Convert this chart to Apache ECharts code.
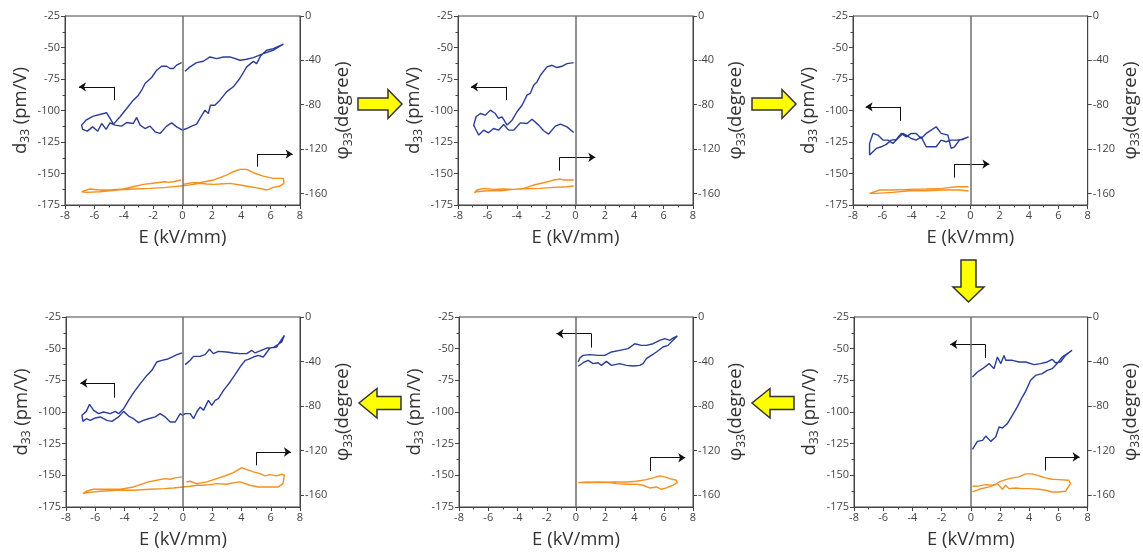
<!DOCTYPE html>
<html>
<head>
<meta charset="utf-8">
<script src="https://cdn.jsdelivr.net/npm/echarts@6/dist/echarts.min.js"></script>
<style>html,body{margin:0;padding:0;background:#fff;}#c{width:1143px;height:555px;}</style>
</head>
<body>
<div id="c"></div>
<script>
// ---------- DATA ----------
const xTicks = [-8, -6, -4, -2, 0, 2, 4, 6, 8];
const leftTicks = [-175, -150, -125, -100, -75, -50, -25];
const rightTicks = [0, -40, -80, -120, -160];
const xTitle = 'E (kV/mm)';
const leftTitle = ['d', '33', ' (pm/V)'];
const rightTitle = ['φ', '33', '(degree)'];

// Panel 1 (top-left)
const p1Blue = [[0.17,-68.8],[0.51,-65.4],[0.96,-62],[1.42,-60.9],[1.87,-57.5],[2.33,-58.8],[2.78,-57.5],[3.23,-57.5],[3.92,-60.1],[4.37,-59.3],[4.82,-58],[5.5,-54.8],[6.18,-52.2],[6.87,-47.4],
[6.18,-50.9],[5.73,-52.2],[5.3,-57],[5.05,-62.8],[4.82,-61],[4.37,-65.4],[3.9,-74.6],[3.46,-81.2],[3.0,-85.2],[2.55,-91.8],[2.2,-95.8],[1.9,-95.8],[1.76,-102.4],[1.53,-99.7],[1.19,-106.3],[0.96,-110.8],[0.62,-112.4],[0.28,-114.3],[0,-115.6],
[-0.4,-113],[-0.74,-109.8],[-1.08,-112.4],[-1.53,-118.2],[-1.87,-116.9],[-2.21,-112.4],[-2.55,-114.3],[-2.89,-111.6],[-3.12,-105.5],[-3.35,-110.3],[-3.8,-109.5],[-4.14,-112.4],[-4.6,-111.6],[-4.94,-109.8],[-5.2,-115],[-5.5,-110.3],[-5.77,-116.4],[-6.12,-113],[-6.48,-116.4],[-6.8,-115],[-6.87,-111.6],
[-6.57,-107.7],[-6.07,-104.5],[-5.16,-101.8],[-4.7,-110.8],[-4.25,-105],[-3.8,-98.4],[-3.35,-91.8],[-3,-87.8],[-2.78,-83.9],[-2.55,-78.6],[-2.1,-73.8],[-1.76,-68],[-1.42,-64.9],[-1.08,-64.9],[-0.85,-66.7],[-0.62,-66.7],[-0.4,-64],[-0.06,-62]];
const p1Orange = [[0.06,-151.9],[0.62,-150.4],[1.19,-150.4],[2.1,-148],[3.0,-143.5],[3.46,-140.5],[3.92,-138.4],[4.37,-138.4],[4.82,-141.4],[5.5,-144.4],[6.18,-146.5],[6.87,-146.5],[6.91,-151],[6.64,-153.4],[6.18,-154.6],[5.73,-157],[5.28,-155.5],[4.6,-154],[3.92,-152.5],[3.23,-151],[2.55,-151.6],[2.1,-151.9],[1.65,-151.6],[1.19,-151],[0.74,-151.9],[0.28,-152.8],[0,-153.1],
[-1.08,-154.6],[-2.21,-155.5],[-3.35,-156.1],[-4.48,-157],[-5.62,-158.5],[-6.53,-159.1],[-6.87,-158.5],[-6.75,-157],[-6.3,-156.1],[-5.62,-157],[-4.94,-157],[-4.03,-156.1],[-3.35,-154],[-2.67,-151.9],[-1.76,-150.4],[-1.19,-149.5],[-0.96,-150.1],[-0.62,-149.5],[-0.1,-148]];
const p1ArrowL = [[-4.66,-91.8],[-4.66,-81.2],[-7.05,-81.2]];
const p1ArrowR = [[5.12,-144.6],[5.12,-134.6],[7.5,-134.6]];

// Panel 2 (top-middle)
const p2Blue = [[-0.12,-117.4],[-0.58,-113],[-1.03,-110.8],[-1.37,-112.4],[-1.83,-118.7],[-2.17,-116.1],[-2.51,-111.6],[-2.96,-106.9],[-3.3,-110.3],[-3.76,-109.8],[-4.21,-115.6],[-4.55,-115.6],[-4.89,-111.1],[-5.24,-115.6],[-5.58,-114.3],[-5.92,-117.7],[-6.25,-115.6],[-6.59,-119.5],[-6.82,-114.3],[-6.93,-111.6],
[-6.77,-105],[-6.48,-102.4],[-6.14,-103.7],[-5.8,-99.7],[-5.46,-102.4],[-5.24,-106.3],[-5.0,-105],[-4.66,-111.6],[-4.32,-107.7],[-3.98,-101],[-3.64,-95.8],[-3.3,-87.8],[-3.08,-86.5],[-2.85,-79.9],[-2.62,-77.3],[-2.39,-72],[-1.94,-65.4],[-1.6,-64.1],[-1.26,-65.9],[-0.92,-64.9],[-0.58,-62.8],[-0.12,-62]];
const p2Orange = [[-0.12,-153.4],[-0.58,-154],[-1.49,-154.6],[-2.39,-155.5],[-3.3,-155.8],[-4.21,-156.4],[-5.12,-157.6],[-6.03,-157.6],[-6.71,-158.5],[-6.89,-159.4],
[-6.71,-157],[-6.25,-155.5],[-5.58,-156.4],[-4.89,-156.1],[-4.21,-156.4],[-3.53,-155.5],[-2.85,-152.5],[-2.17,-150.4],[-1.49,-148],[-1.03,-147.1],[-0.8,-148],[-0.58,-148],[-0.12,-148]];
const p2ArrowL = [[-4.71,-91.8],[-4.71,-81.2],[-7.12,-81.2]];
const p2ArrowR = [[-1.08,-147.8],[-1.08,-137.2],[1.35,-137.2]];

// Panel 3 (top-right)
const p3Blue = [[-0.12,-120.9],[-0.74,-123.5],[-1.08,-128.8],[-1.31,-130.1],[-1.53,-119.5],[-1.99,-118.2],[-2.33,-112.9],[-2.67,-115.6],[-3.01,-118.2],[-3.35,-122.2],[-3.69,-118.2],[-4.03,-118.2],[-4.37,-120.9],[-4.71,-118.2],[-5.05,-123],[-5.39,-123.5],[-5.73,-126.9],[-6.07,-128.8],[-6.41,-130.1],[-6.64,-132.7],[-6.87,-135.4],
[-6.87,-126.1],[-6.64,-118.2],[-6.3,-119.5],[-5.96,-123.5],[-5.62,-123.5],[-5.28,-126.1],[-4.94,-122.2],[-4.6,-118.2],[-4.37,-119.5],[-4.03,-122.2],[-3.69,-123.5],[-3.35,-120.9],[-3.01,-128.8],[-2.33,-128.8],[-1.99,-123.5],[-1.65,-124.8],[-1.31,-123.5],[-0.96,-123.5],[-0.51,-123],[-0.12,-120.9]];
const p3Orange = [[-0.12,-157.9],[-0.74,-157],[-1.87,-157],[-3.01,-157.6],[-4.14,-157.6],[-5.28,-159.1],[-6.41,-160],[-6.87,-160],
[-6.87,-158.5],[-6.18,-157],[-5.28,-157],[-4.14,-156.4],[-3.01,-156.1],[-1.87,-155.5],[-0.96,-154],[-0.51,-154],[-0.12,-154]];
const p3ArrowL = [[-4.78,-108.2],[-4.78,-97.1],[-7.14,-97.1]];
const p3ArrowR = [[-1.08,-153.3],[-1.08,-142.5],[1.3,-142.5]];

// Panel 4 (bottom-left)
const p4Blue = [[0.15,-62.6],[0.49,-59.2],[0.72,-56.1],[1.17,-56.1],[1.51,-54.7],[1.81,-50.5],[2.08,-53.9],[2.42,-52.1],[2.99,-52.6],[3.45,-53.4],[3.9,-53.9],[4.36,-53.9],[4.7,-51.3],[4.93,-53.4],[5.27,-51.8],[5.72,-49.5],[6.18,-49.2],[6.75,-44.7],[6.93,-39.5],
[6.63,-44.7],[6.4,-48.7],[5.95,-49.5],[5.49,-56.6],[5.15,-55.3],[4.81,-56.6],[4.47,-58.4],[4.25,-59.2],[3.9,-64.5],[3.56,-70.5],[3.22,-76.3],[2.77,-82.9],[2.42,-89.5],[2.2,-90.8],[1.97,-94.7],[1.74,-90.8],[1.4,-98.7],[1.17,-96.1],[0.94,-100],[0.72,-105.3],[0.49,-101.3],[0.15,-101.3],[-0.03,-102.6],
[-0.19,-101.3],[-0.53,-107.9],[-0.87,-107.9],[-1.22,-103.9],[-1.56,-101.3],[-1.9,-103.9],[-2.36,-105.3],[-2.7,-106.6],[-3.04,-108.4],[-3.38,-105.3],[-3.72,-103.2],[-4.06,-99.5],[-4.41,-103.9],[-4.86,-107.4],[-5.2,-106.6],[-5.66,-103.9],[-6,-104.7],[-6.34,-106.6],[-6.61,-105.3],[-6.84,-107.4],[-6.91,-102.6],
[-6.61,-99.5],[-6.39,-93.9],[-6.11,-98.7],[-5.77,-101.3],[-5.43,-100],[-4.97,-101.3],[-4.63,-99.5],[-4.41,-101.3],[-4.06,-97.4],[-3.72,-90.8],[-3.38,-84.7],[-2.92,-77.6],[-2.47,-71.1],[-2.13,-67.1],[-1.79,-60.5],[-1.45,-59.2],[-1.1,-58.4],[-0.76,-56.6],[-0.42,-54.7],[-0.08,-53.4]];
const p4Orange = [[0.22,-148],[0.49,-147.4],[0.94,-149.5],[1.63,-148],[2.31,-145],[2.99,-142],[3.44,-139.7],[4.02,-135.2],[4.36,-137],[4.82,-139],[5.27,-140.6],[5.61,-142.6],[5.95,-141.4],[6.41,-142.6],[6.75,-141.1],[6.93,-142],[6.84,-149.5],[6.52,-152.5],[5.72,-152.5],[5.15,-152.5],[4.58,-151],[3.9,-148],[3.44,-148.9],[2.99,-150.1],[2.31,-149.5],[1.86,-150.4],[1.4,-151],[0.94,-151],[0.49,-151.9],[0,-152.5],
[-0.65,-153.4],[-1.33,-154],[-2.24,-154.6],[-3.38,-155.5],[-4.52,-155.5],[-5.66,-156.4],[-6.57,-157.6],[-6.84,-158.5],[-6.61,-156.4],[-6.11,-154.6],[-5.2,-154.6],[-4.29,-154.6],[-3.38,-152.5],[-2.92,-150.4],[-2.36,-148],[-1.79,-146.5],[-1.22,-145],[-0.87,-145.6],[-0.53,-144.4],[-0.08,-143.5]];
const p4ArrowL = [[-4.68,-88.7],[-4.68,-77.1],[-7.02,-77.1]];
const p4ArrowR = [[4.99,-142.1],[4.99,-131.6],[7.38,-131.6]];

// Panel 5 (bottom-middle)
const p5Blue = [[0.15,-63.9],[0.49,-61.1],[0.83,-59.2],[1.17,-61.8],[1.51,-61.1],[1.74,-63.2],[2.08,-60],[2.43,-63.2],[2.99,-61.8],[3.45,-63.2],[3.9,-63.7],[4.36,-63.2],[4.59,-61.8],[4.81,-57.9],[5.15,-55.3],[5.5,-52.6],[5.95,-48.7],[6.29,-47.4],[6.63,-43.4],[6.93,-40],
[6.63,-41.6],[6.41,-43.4],[6.07,-42.1],[5.72,-43.4],[5.27,-46.1],[4.81,-47.4],[4.47,-47.4],[4.02,-46.1],[3.56,-50],[2.99,-51.3],[2.43,-52.6],[1.97,-55.3],[1.51,-55.3],[0.94,-54.7],[0.49,-55.3],[0.26,-57.4],[0.15,-60.5]];
const p5Orange = [[0.15,-148.6],[0.72,-148],[1.63,-148.6],[2.54,-148],[3.45,-148],[4.13,-147.4],[4.81,-145.9],[5.27,-144.4],[5.72,-142.6],[6.07,-143.5],[6.4,-145],[6.86,-146.5],[6.93,-148.6],[6.63,-151],[6.18,-153.4],[5.84,-154.6],[5.5,-152.5],[5.04,-153.4],[4.59,-151],[4.13,-150.1],[3.45,-150.1],[2.77,-149.5],[2.31,-148.6],[1.63,-148],[0.94,-148.6],[0.26,-148.6]];
const p5ArrowL = [[1.06,-49.2],[1.06,-38.2],[-1.33,-38.2]];
const p5ArrowR = [[5.09,-146.6],[5.09,-136.1],[7.47,-136.1]];

// Panel 6 (bottom-right)
const p6Blue = [[0.11,-129.5],[0.45,-123.2],[0.8,-122.4],[1.02,-119],[1.36,-123.2],[1.7,-119.7],[1.93,-111.8],[2.16,-112.6],[2.5,-109.2],[2.84,-102.6],[3.18,-96],[3.52,-88.2],[3.75,-83.7],[4.09,-75],[4.43,-71.1],[4.89,-69.7],[5.23,-67.1],[5.57,-65.8],[5.91,-61.8],[6.25,-56.6],[6.93,-51.3],
[6.48,-55.3],[6.14,-60.5],[5.8,-61.1],[5.57,-58.4],[5.23,-60.5],[4.77,-61.8],[4.32,-62.6],[3.75,-60.5],[3.3,-60.5],[2.84,-59.2],[2.39,-59.2],[2.27,-55.3],[2.05,-61.8],[1.82,-56.6],[1.59,-65.8],[1.25,-61.8],[0.8,-65.8],[0.45,-68.4],[0.11,-72.4]];
const p6Orange = [[0.11,-157],[0.57,-154.6],[1.25,-152.5],[1.7,-150.4],[1.93,-148],[2.39,-145.9],[2.84,-144.4],[3.3,-143.5],[3.75,-140.8],[4.2,-140.8],[4.66,-142.6],[5.11,-144.4],[5.57,-145.6],[6.02,-145.9],[6.7,-146.5],[6.82,-149.5],[6.48,-156.4],[6.02,-157],[5.57,-157],[5.11,-155.5],[4.66,-154.6],[3.98,-154],[3.52,-154],[3.07,-153.4],[2.61,-154],[2.39,-151],[2.16,-154.6],[1.82,-149.5],[1.48,-151],[1.02,-150.4],[0.57,-151.6],[0.11,-151.9]];
const p6ArrowL = [[0.98,-57.4],[0.98,-46.6],[-1.41,-46.6]];
const p6ArrowR = [[5.07,-146.1],[5.07,-135.5],[7.45,-135.5]];

// ---------- LAYOUT / STYLE ----------
const FONT = '"Open Sans", "Noto Sans", sans-serif';
const BLUE = '#2a3d98';
const ORANGE = '#f5901e';
const AXIS = '#444';
const panels = [
  {blue:p1Blue, orange:p1Orange, aL:p1ArrowL, aR:p1ArrowR, grid:{left:65, top:16, width:235, height:189}},
  {blue:p2Blue, orange:p2Orange, aL:p2ArrowL, aR:p2ArrowR, grid:{left:458, top:16, width:235, height:189}},
  {blue:p3Blue, orange:p3Orange, aL:p3ArrowL, aR:p3ArrowR, grid:{left:853, top:16, width:235, height:189}},
  {blue:p4Blue, orange:p4Orange, aL:p4ArrowL, aR:p4ArrowR, grid:{left:66, top:317, width:234, height:190}},
  {blue:p5Blue, orange:p5Orange, aL:p5ArrowL, aR:p5ArrowR, grid:{left:459, top:317, width:234, height:190}},
  {blue:p6Blue, orange:p6Orange, aL:p6ArrowL, aR:p6ArrowR, grid:{left:854, top:317, width:235, height:190}}
];

const rich = {
  t: {fontSize: 18.5, fontFamily: FONT, color: '#333', lineHeight: 23},
  s: {fontSize: 12, fontFamily: FONT, color: '#333', lineHeight: 12, padding: [11, 0, 0, 0]}
};
const richName = (parts) => '{t|' + parts[0] + '}{s|' + parts[1] + '}{t|' + parts[2] + '}';

const grids = [], xAxes = [], yAxes = [], series = [];
panels.forEach((p, i) => {
  grids.push(Object.assign({show: true, borderColor: AXIS, borderWidth: 1, containLabel: false}, p.grid));
  xAxes.push({
    type: 'value', gridIndex: i, min: xTicks[0], max: xTicks[xTicks.length - 1], interval: 2,
    name: xTitle, nameLocation: 'middle', nameGap: 23,
    nameTextStyle: {fontSize: 18.5, fontFamily: FONT, color: '#333'},
    axisLine: {show: true, onZero: false, lineStyle: {color: AXIS, width: 1}},
    axisTick: {show: true, inside: false, length: 4, lineStyle: {color: AXIS}},
    minorTick: {show: true, splitNumber: 2, length: 2.5, lineStyle: {color: AXIS}},
    axisLabel: {fontSize: 11, fontFamily: FONT, color: '#444', margin: 5},
    splitLine: {show: false}
  });
  yAxes.push({
    type: 'value', gridIndex: i, position: 'left', min: leftTicks[0], max: leftTicks[leftTicks.length - 1], interval: 25,
    name: richName(leftTitle), nameLocation: 'middle', nameGap: 33, nameRotate: 90,
    nameTextStyle: {rich: rich},
    axisLine: {show: true, onZero: false, lineStyle: {color: AXIS, width: 1}},
    axisTick: {show: true, inside: false, length: 4, lineStyle: {color: AXIS}},
    minorTick: {show: true, splitNumber: 2, length: 2.5, lineStyle: {color: AXIS}},
    axisLabel: {fontSize: 11, fontFamily: FONT, color: '#444', margin: 5},
    splitLine: {show: false}
  });
  yAxes.push({
    type: 'value', gridIndex: i, position: 'right', min: -170.5, max: 0,
    name: richName(rightTitle), nameLocation: 'middle', nameGap: 23, nameRotate: 90,
    nameTextStyle: {rich: rich},
    axisLine: {show: true, onZero: false, lineStyle: {color: AXIS, width: 1}},
    axisTick: {show: true, inside: false, length: 4, customValues: rightTicks, lineStyle: {color: AXIS}},
    axisLabel: {fontSize: 11, fontFamily: FONT, color: '#444', margin: 5, customValues: rightTicks},
    splitLine: {show: false}
  });
  const yl = 2 * i, yr = 2 * i + 1;
  series.push({
    type: 'line', xAxisIndex: i, yAxisIndex: yl, data: p.blue, showSymbol: false, symbol: 'none',
    lineStyle: {color: BLUE, width: 1.4}, z: 3,
    markLine: {silent: true, symbol: 'none', label: {show: false},
      lineStyle: {color: '#6e6e6e', width: 1.5, type: 'solid'}, data: [{xAxis: 0}]}
  });
  series.push({
    type: 'line', xAxisIndex: i, yAxisIndex: yr, data: p.orange, showSymbol: false, symbol: 'none',
    lineStyle: {color: ORANGE, width: 1.4}, z: 3
  });
  // annotation arrows: vertical stems
  series.push({
    type: 'lines', coordinateSystem: 'cartesian2d', xAxisIndex: i, yAxisIndex: yl,
    symbol: 'none', lineStyle: {color: '#111', width: 1, opacity: 1}, silent: true,
    data: [{coords: [p.aL[0], p.aL[1]]}, {coords: [p.aR[0], p.aR[1]]}]
  });
  // annotation arrows: horizontal with arrowheads
  series.push({
    type: 'lines', coordinateSystem: 'cartesian2d', xAxisIndex: i, yAxisIndex: yl,
    symbol: ['none', 'arrow'], symbolSize: 7, lineStyle: {color: '#111', width: 1, opacity: 1}, silent: true,
    data: [{coords: [p.aL[1], p.aL[2]]}, {coords: [p.aR[1], p.aR[2]]}]
  });
});

// Yellow flow arrows (decoration)
const arrowStyle = {fill: '#ffff00', stroke: '#333', lineWidth: 1.5};
const graphic = [
  {type: 'polygon', shape: {points: [[358,98],[388,98],[388,89.5],[402,104],[388,118.5],[388,110],[358,110]]}, style: arrowStyle},
  {type: 'polygon', shape: {points: [[752,98],[782,98],[782,89.5],[796,104],[782,118.5],[782,110],[752,110]]}, style: arrowStyle},
  {type: 'polygon', shape: {points: [[961,260],[976,260],[976,287],[984,287],[968.5,302],[953,287],[961,287]]}, style: arrowStyle},
  {type: 'polygon', shape: {points: [[794,396.5],[770,396.5],[770,388.5],[752,403],[770,418],[770,409.5],[794,409.5]]}, style: arrowStyle},
  {type: 'polygon', shape: {points: [[401,396.5],[377,396.5],[377,388.5],[359,403],[377,418],[377,409.5],[401,409.5]]}, style: arrowStyle}
];

const chart = echarts.init(document.getElementById('c'), null, {renderer: 'canvas'});
chart.setOption({
  animation: false,
  backgroundColor: '#fff',
  grid: grids,
  xAxis: xAxes,
  yAxis: yAxes,
  series: series,
  graphic: graphic
});
</script>
</body>
</html>
